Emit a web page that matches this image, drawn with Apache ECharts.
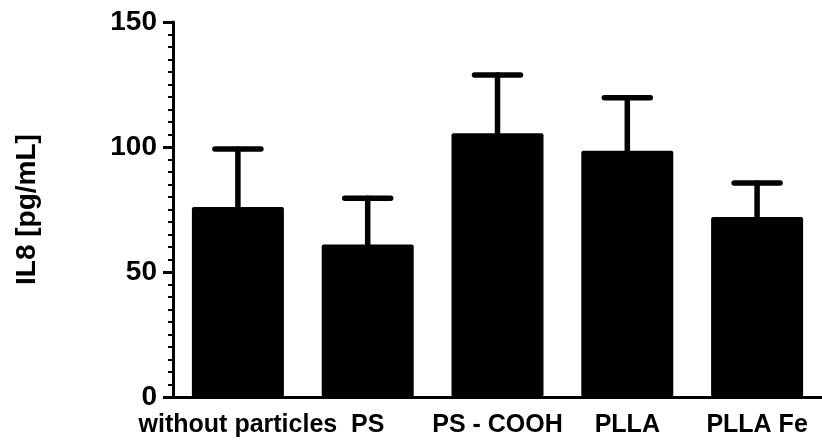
<!DOCTYPE html>
<html>
<head>
<meta charset="utf-8">
<script src="https://cdn.jsdelivr.net/npm/echarts@6/dist/echarts.min.js"></script>
<style>
  html, body { margin: 0; padding: 0; background: #fff; }
  #chart { width: 822px; height: 441px; }
</style>
</head>
<body>
<div id="chart"></div>
<script>
// groups on the x axis
const categories = ['without particles', 'PS', 'PS - COOH', 'PLLA', 'PLLA Fe'];
// IL8 mean values (pg/mL)
const means = [76, 61, 105.5, 98.5, 72];
// upper error (SEM) read from the caps
const errors = [23.2, 18.5, 23.3, 21.2, 13.6];
const yTicks = [0, 50, 100, 150];

const font = '"Liberation Sans", Arial, sans-serif';
const chart = echarts.init(document.getElementById('chart'));

const errData = means.map((m, i) => [i, m, m + errors[i]]);

const option = {
  animation: false,
  grid: { left: 173, top: 22, width: 652, height: 375 },
  xAxis: {
    type: 'category',
    data: categories,
    axisLine: { lineStyle: { color: '#000', width: 3 } },
    axisTick: { alignWithLabel: true, length: 10, lineStyle: { color: '#000', width: 3 } },
    axisLabel: {
      interval: 0,
      color: '#000', fontSize: 25, fontWeight: 'bold', fontFamily: font, margin: 16
    },
    splitLine: { show: false }
  },
  yAxis: {
    type: 'value',
    min: 0, max: 150, interval: 50,
    name: 'IL8 [pg/mL]',
    nameLocation: 'middle',
    nameGap: 132,
    nameTextStyle: { color: '#000', fontSize: 28, fontWeight: 'bold', fontFamily: font },
    axisLine: { show: true, lineStyle: { color: '#000', width: 3 } },
    axisTick: { show: true, length: 10, lineStyle: { color: '#000', width: 3 } },
    minorTick: { show: true, splitNumber: 10, length: 5, lineStyle: { color: '#000', width: 2 } },
    axisLabel: {
      color: '#000', fontSize: 28, fontWeight: 'bold', fontFamily: font, margin: 16,
      formatter: v => (yTicks.indexOf(v) >= 0 ? String(v) : '')
    },
    splitLine: { show: false }
  },
  series: [
    {
      type: 'bar',
      data: means,
      barWidth: 92,
      itemStyle: { color: '#000', borderRadius: 2 },
      z: 2
    },
    {
      type: 'custom',
      data: errData,
      z: 3,
      renderItem: function (params, api) {
        const i = api.value(0);
        const top = api.coord([i, api.value(1)]);
        const hi = api.coord([i, api.value(2)]);
        const half = 23;
        const style = { stroke: '#000', lineWidth: 5.5, lineCap: 'round' };
        return {
          type: 'group',
          children: [
            { type: 'line', shape: { x1: top[0], y1: top[1], x2: hi[0], y2: hi[1] }, style: style },
            { type: 'line', shape: { x1: hi[0] - half, y1: hi[1], x2: hi[0] + half, y2: hi[1] }, style: style }
          ]
        };
      }
    }
  ]
};

chart.setOption(option, true);
</script>
</body>
</html>
